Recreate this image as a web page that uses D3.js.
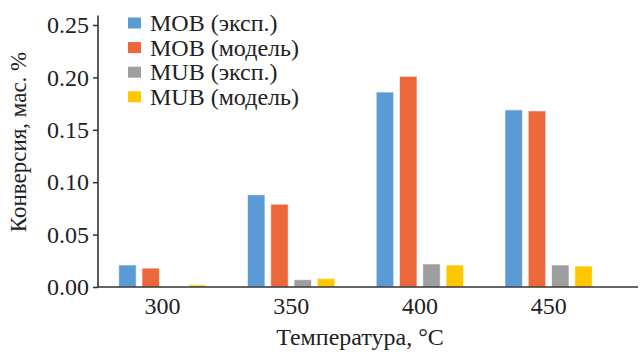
<!DOCTYPE html>
<html>
<head>
<meta charset="utf-8">
<script src="https://cdn.jsdelivr.net/npm/d3@7"></script>
<style>
  html, body { margin: 0; padding: 0; background: #fff; }
  svg { display: block; font-family: "Liberation Serif", "Times New Roman", serif; }
</style>
</head>
<body>
<svg id="chart" width="640" height="352"></svg>
<script>
// data
const temps = ["300", "350", "400", "450"];
const seriesNames = ["MOB (эксп.)", "MOB (модель)", "MUB (эксп.)", "MUB (модель)"];
const mobExp = [0.021, 0.088, 0.186, 0.169];
const mobModel = [0.018, 0.079, 0.201, 0.168];
const mubExp = [0.000, 0.007, 0.022, 0.021];
const mubModel = [0.002, 0.008, 0.021, 0.020];
const yTicks = [0, 0.05, 0.10, 0.15, 0.20, 0.25];
const colors = ["#5b9bd5", "#ec673a", "#9e9e9e", "#ffc700"];

const allSeries = [mobExp, mobModel, mubExp, mubModel];

// note: "top" is taken by window.top, so use plot* names
var width = 640,
    height = 352;
var plotLeft = 98, plotRight = 613, plotTop = 25, plotBottom = 287;

var svg = d3.select("#chart");

var x0 = d3.scaleBand().domain(temps).range([plotLeft, plotRight]).padding(0);
var x1 = d3.scaleBand().domain(d3.range(seriesNames.length))
    .range([0, x0.bandwidth()])
    .paddingInner(0.25)
    .paddingOuter(0.89);
var y = d3.scaleLinear().domain([0, 0.25]).range([plotBottom, plotTop]);

// bars
var groups = svg.append("g")
    .selectAll("g")
    .data(temps)
    .join("g")
    .attr("transform", d => "translate(" + x0(d) + ",0)");

groups.selectAll("rect")
    .data((t, i) => allSeries.map((s, k) => ({ k: k, v: s[i] })))
    .join("rect")
    .attr("x", d => x1(d.k))
    .attr("width", x1.bandwidth())
    .attr("y", d => y(d.v))
    .attr("height", d => y(0) - y(d.v))
    .attr("fill", d => colors[d.k])
    .attr("stroke", "#fff")
    .attr("stroke-opacity", 0.6)
    .attr("stroke-width", 1);

// y axis
var yAxis = svg.append("g")
    .attr("transform", "translate(" + plotLeft + ",0)")
    .call(d3.axisLeft(y).tickValues(yTicks).tickFormat(d3.format(".2f")).tickSize(5).tickPadding(4).tickSizeOuter(0));
yAxis.select(".domain").remove();
yAxis.selectAll("line").attr("stroke", "#333").attr("stroke-width", 1.5);
yAxis.selectAll("text")
    .attr("font-family", "Liberation Serif, Times New Roman, serif")
    .attr("font-size", 24)
    .attr("fill", "#222");
svg.append("line")
    .attr("x1", plotLeft).attr("x2", plotLeft)
    .attr("y1", y(0.259)).attr("y2", plotBottom)
    .attr("stroke", "#333").attr("stroke-width", 1.6);

// x axis
var xAxis = svg.append("g")
    .attr("transform", "translate(0," + plotBottom + ")")
    .call(d3.axisBottom(x0).tickSize(0).tickPadding(10));
xAxis.select(".domain").remove();
xAxis.selectAll("text")
    .attr("font-family", "Liberation Serif, Times New Roman, serif")
    .attr("font-size", 24)
    .attr("fill", "#222");
svg.append("line")
    .attr("x1", plotLeft - 1).attr("x2", width - 2)
    .attr("y1", plotBottom).attr("y2", plotBottom)
    .attr("stroke", "#333").attr("stroke-width", 1.6);

// axis titles
svg.append("text")
    .attr("x", 360)
    .attr("y", 345)
    .attr("text-anchor", "middle")
    .attr("font-size", 24)
    .attr("fill", "#222")
    .text("Температура, °C");

svg.append("text")
    .attr("transform", "translate(26,142) rotate(-90)")
    .attr("text-anchor", "middle")
    .attr("font-size", 23)
    .attr("fill", "#222")
    .text("Конверсия, мас. %");

// legend
var legend = svg.append("g")
    .selectAll("g")
    .data(seriesNames)
    .join("g")
    .attr("transform", (d, i) => "translate(128," + (23 + i * 24.6) + ")");

legend.append("rect")
    .attr("x", 0).attr("y", -5.5)
    .attr("width", 13).attr("height", 11)
    .attr("fill", (d, i) => colors[i]);

legend.append("text")
    .attr("x", 22)
    .attr("y", 8)
    .attr("font-size", 24)
    .attr("fill", "#222")
    .text(d => d);
</script>
</body>
</html>
